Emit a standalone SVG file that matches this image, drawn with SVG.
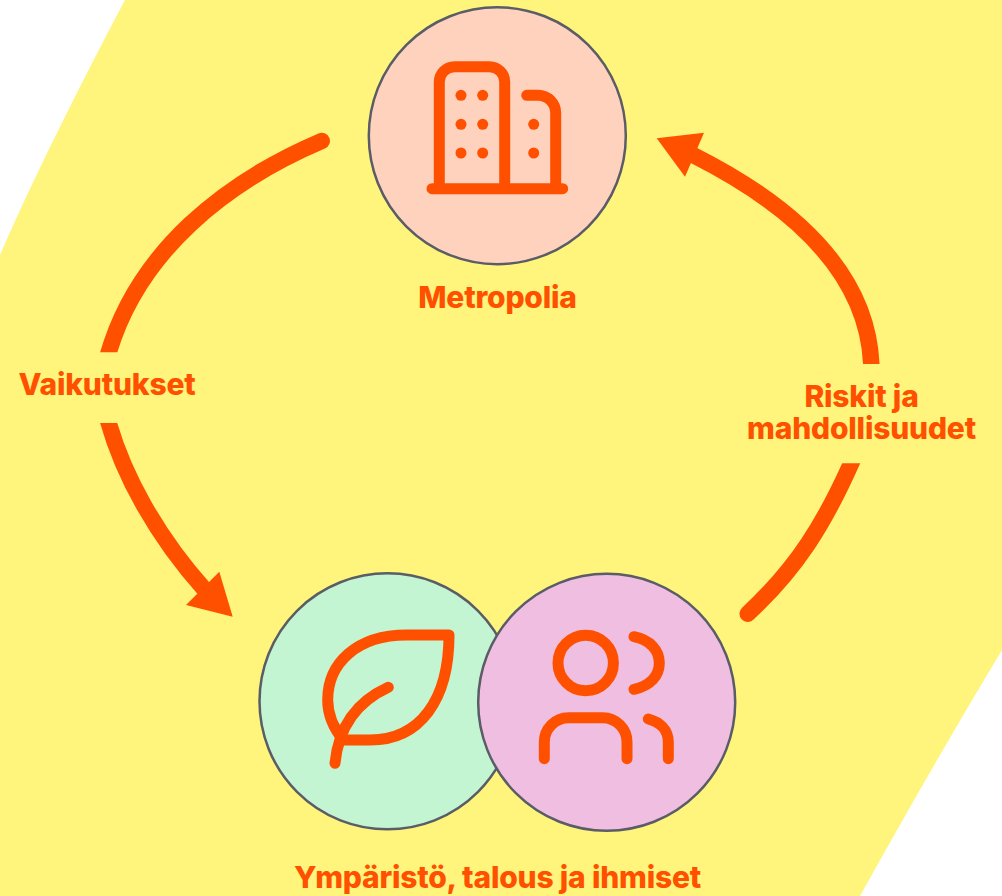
<svg xmlns="http://www.w3.org/2000/svg" width="1002" height="896" viewBox="0 0 1002 896">
<defs>
<clipPath id="cutA"><rect x="60" y="100" width="300" height="252.300"/></clipPath>
<clipPath id="cutB"><rect x="60" y="423" width="200" height="200"/></clipPath>
<clipPath id="cutC"><rect x="700" y="463.300" width="200" height="180"/></clipPath>
<clipPath id="cutD"><rect x="660" y="120" width="240" height="244"/></clipPath>
</defs>
<style>
.c{stroke:#5a5c66;stroke-width:2.500}
.i{fill:none;stroke:#ff5000;stroke-width:11;stroke-linecap:round;stroke-linejoin:round}
.d{fill:#ff5000}
.a{fill:none;stroke:#ff5000;stroke-width:16.500}
.r{stroke-linecap:round}
.h{fill:#ff5000;stroke:none}
.t{font-family:Inter,"Liberation Sans",Arial,sans-serif;font-weight:800;font-size:30px;fill:#ff5000;text-anchor:middle;letter-spacing:-0.2px}
</style>
<rect width="1002" height="896" fill="#ffffff"/>
<path id="background" d="M125 0 L1002 0 L1002 650 C955 728 905 815 860 896 L0 896 L0 255 C35 175 80 85 125 0 Z" fill="#fff47c"/>
<g id="connectors">
<path class="a r" clip-path="url(#cutA)" d="M321.700 141 C230 180 135 250 106 362"/>
<path class="a" clip-path="url(#cutB)" d="M105.500 411 C121 475 160 540 205 590"/>
<polygon class="h" points="232.700,616.700 219.300,571.700 186,605"/>
<path class="a r" clip-path="url(#cutC)" d="M747.700 613.700 C795 570 825 525 857 450"/>
<path class="a" clip-path="url(#cutD)" d="M871.400 374 L871.300 364 C868 290 818 218 693 155"/>
<polygon class="h" points="656.700,138.300 704,132.700 685,176.700"/>
</g>
<g id="metropolia">
<circle class="c" cx="497.300" cy="135.700" r="128.500" fill="#ffd2be"/>
<path class="i" d="M432 188.700 H562.700 M439.300 188.700 V82 A15.300 15.300 0 0 1 454.600 66.700 H489.400 A15.300 15.300 0 0 1 504.700 82 V188.700 M526.700 95.300 H538 A17.700 17.700 0 0 1 555.700 113 V188.700"/>
<circle class="d" cx="461" cy="95.300" r="5.500"/><circle class="d" cx="482.700" cy="95.300" r="5.500"/>
<circle class="d" cx="461" cy="124.300" r="5.500"/><circle class="d" cx="482.700" cy="124.300" r="5.500"/><circle class="d" cx="533.700" cy="124.300" r="5.500"/>
<circle class="d" cx="461" cy="153" r="5.500"/><circle class="d" cx="482.700" cy="153" r="5.500"/><circle class="d" cx="533.700" cy="153" r="5.500"/>
<text class="t" x="497.500" y="308">Metropolia</text>
</g>
<g id="ymparisto">
<circle class="c" cx="387.500" cy="701.300" r="128" fill="#c3f5d2"/>
<path class="i" d="M449 635 L406.700 635 C356.700 635 327.700 663.300 327.700 700 C327.700 716.700 335 730 343.300 740 L370 740 C420 740 449 700 449 635 Z"/>
<path class="i" d="M335 763.300 C338.300 730 353.300 703.300 388.300 687.300"/>
</g>
<g id="ihmiset">
<circle class="c" cx="606.700" cy="702.300" r="128.500" fill="#f0bee1"/>
<circle class="i" cx="585.700" cy="663" r="27.700"/>
<path class="i" d="M634 636.700 C650 640 659.300 650 659.300 663 C659.300 676 650 686 634 689.300"/>
<path class="i" d="M544.300 758.700 V742 A24.300 24.300 0 0 1 568.600 717.700 H602.700 A24.300 24.300 0 0 1 627 742 V758.700"/>
<path class="i" d="M648.300 719 C660 722 668.300 730 668.300 742 V758.700"/>
</g>
<text class="t" x="107" y="395">Vaikutukset</text>
<text class="t" x="861.500" y="407">Riskit ja</text>
<text class="t" x="861.500" y="439">mahdollisuudet</text>
<text class="t" x="497.500" y="888">Ympäristö, talous ja ihmiset</text>
</svg>
